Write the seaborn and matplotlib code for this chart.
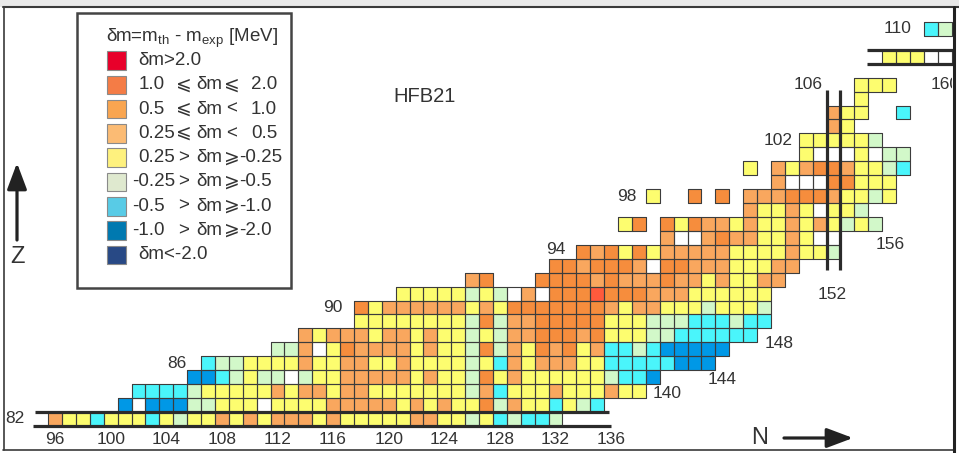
import numpy as np
import matplotlib
matplotlib.use("Agg")
import matplotlib.pyplot as plt
from matplotlib.colors import ListedColormap
from matplotlib.patches import Rectangle
from matplotlib.collections import PatchCollection
from matplotlib.lines import Line2D
import seaborn as sns

# ---------------------------------------------------------------------------
# Mass-deviation classes (delta m = m_th - m_exp, MeV)
#   R: >2.0   D: 1.0..2.0   O: 0.5..1.0   L: 0.25..0.5   Y: -0.25..0.25
#   G: -0.5..-0.25   C: -1.0..-0.5   B: -2.0..-1.0   K: <-2.0   .: no entry
# ---------------------------------------------------------------------------
class_codes = ["R", "D", "O", "L", "Y", "G", "C", "B", "K", "."]
cell_colors = ["#ff5a3c", "#f68d3d", "#f9a75e", "#fbbf7e", "#fdfd6f",
               "#d2f8c9", "#4af5fb", "#0098e6", "#253f86", "#ffffff"]
key_colors = ["#e8002a", "#f47c46", "#f9a550", "#fbbb74", "#fef17e",
              "#dfe9cf", "#58cbe6", "#0079b0", "#284985"]
key_labels = ["δm>2.0",
              "1.0|⩽|δm|⩽|2.0",
              "0.5|⩽|δm|<|1.0",
              "0.25|⩽|δm|<|0.5",
              "0.25|>|δm|⩾|-0.25",
              "-0.25|>|δm|⩾|-0.5",
              "-0.5|>|δm|⩾|-1.0",
              "-1.0|>|δm|⩾|-2.0",
              "δm<-2.0"]

# one string per proton number Z, first character at neutron number n_first
z_values = list(range(82, 111))
n_first = [96, 101, 102, 106, 107, 112, 114, 118, 118, 121,
           126, 132, 134, 140, 137, 146, 139, 148, 146, 150,
           150, 152, 152, 154, 154, 154, 156, 156, 159]
row_cells = [
    "OYYCYYYCYGYYOYOYOOOYOYYYYYOOYYGYCGCCG",     # Z=82
    "B.BBBGGYYY.YYYYOOOOOYOYOYYDGOYYCYGC",       # 83
    "CCCCGYYYYYOYOOYOOYYYYYYYGOCYYYOYYYOYY",     # 84
    "BBCGYGG.GYYOOOOOYOYYGDYOYYYYYYGCCB",        # 85
    "CGGYYYYOYYOOYYOYYYYGYCOYOOOYYCCCCCBBB",     # 86
    "GGO.YDOOOOYOYYGDGOYDODYOCCGCBBBBB",         # 87
    "OYOOOYOOYOYYGYGOODDDODYYYGGCCCCCC",         # 88
    "YYYYYYYYGDGOODDDDDYYYGGGCCCGCC",            # 89
    "DYOOOOOOYOYDDDDDDDOYOOYYYGYYYG",            # 90
    "YYYYYGYG.O.DDDRDDDOOOYYYYYY",               # 91
    "OD   DDDDODOOODOOYOYYOO",                   # 92
    "DDODDDO.DDOOOYYYOO",                        # 93
    "DODYDYOOOOOYYYYOYYG",                       # 94
    "O..ODOOYYOY..",                             # 95
    "YD DYDOOYOYYOYOYGYG",                       # 96
    "OYYOY.YYG",                                 # 97
    "Y  D D OOODDDOYYGY",                        # 98
    "O...DDYYY",                                 # 99
    "Y OYODDOYYGC",                              # 100
    "Y...Y.GG",                                  # 101
    "YYYYYG",                                    # 102
    "OY",                                        # 103
    "OYY  C",                                    # 104
    "Y",                                         # 105
    "YYY",                                       # 106
    "",                                          # 107
    "YYY..",                                     # 108
    "",                                          # 109
    "CG",                                        # 110
]

n_ticks = [96, 100, 104, 108, 112, 116, 120, 124, 128, 132, 136]
z_marks = ["82", "86", "90", "94", "98", "102", "106", "110"]
z_mark_pos = [(93.1, 82.0), (104.8, 86.0), (116.0, 90.0), (132.0, 94.2),
              (137.1, 98.0), (148.0, 102.0), (150.2, 106.0), (156.6, 110.0)]
n_marks = ["140", "144", "148", "152", "156", "160"]
n_mark_pos = [(140.0, 83.8), (144.0, 84.8), (148.1, 87.4), (151.9, 90.9),
              (156.1, 94.5), (160.0, 106.0)]

N_MIN, N_MAX, Z_MIN, Z_MAX = 96, 160, 82, 110

# ---------------------------------------------------------------------------
grid = np.full((Z_MAX - Z_MIN + 1, N_MAX - N_MIN + 1), np.nan)
for z, n0, cells in zip(z_values, n_first, row_cells):
    for k, code in enumerate(cells):
        if code == " ":
            continue
        grid[Z_MAX - z, n0 + k - N_MIN] = class_codes.index(code)

sns.set_style("white")
plt.rcParams["font.family"] = ["Liberation Sans", "DejaVu Sans"]
plt.rcParams["mathtext.fontset"] = "custom"
plt.rcParams["mathtext.rm"] = "Liberation Sans"
plt.rcParams["mathtext.it"] = "Liberation Sans:italic"

fig = plt.figure(figsize=(9.59, 4.53), dpi=100)
ax = fig.add_axes([0, 0, 1, 1])

sns.heatmap(grid, ax=ax, cmap=ListedColormap(cell_colors), vmin=-0.5,
            vmax=len(cell_colors) - 0.5, cbar=False, linewidths=0,
            square=False)

# outline only the nuclides that are present
rows, cols = np.nonzero(~np.isnan(grid))
outlines = PatchCollection([Rectangle((c, r), 1, 1) for r, c in zip(rows, cols)],
                           facecolor="none", edgecolor="#3c3c3c",
                           linewidth=0.8, zorder=3)
ax.add_collection(outlines)

# pixel <-> cell-grid mapping of the canvas
X0, Y0, PX, PY = 48.1, 21.96, 13.9, 13.93


def px(x, y):
    return ((x - X0) / PX, (y - Y0) / PY)


def cell(n, z):
    return (n - N_MIN + 0.5, Z_MAX - z + 0.5)


ax.set_xlim(px(0, 0)[0], px(959, 0)[0])
ax.set_ylim(px(0, 453)[1], px(0, 0)[1])
ax.set_axis_off()

ink = "#333333"


# closed-shell double lines: Z = 82, Z = 108, N = 152
def seg(p0, p1, lw=2.3):
    ax.add_line(Line2D([p0[0], p1[0]], [p0[1], p1[1]], color="#2b2b2b",
                       lw=lw, solid_capstyle="butt", zorder=4))


r82 = Z_MAX - 82
seg((px(35, 0)[0], r82), (px(609, 0)[0], r82))
seg((px(33, 0)[0], r82 + 1), (px(611, 0)[0], r82 + 1))
r108 = Z_MAX - 108
seg((px(867, 0)[0], r108), (px(953, 0)[0], r108))
seg((px(867, 0)[0], r108 + 1), (px(953, 0)[0], r108 + 1))
c152 = 152 - N_MIN
seg((c152, px(0, 90)[1]), (c152, px(0, 270)[1]))
seg((c152 + 1, px(0, 90)[1]), (c152 + 1, px(0, 270)[1]))

# number labels
for lab, (n, z) in zip(z_marks, z_mark_pos):
    ax.text(*cell(n, z), lab, ha="center", va="center", fontsize=12.5,
            color=ink, zorder=6)
for n in n_ticks:
    ax.text(*cell(n, 80.5), str(n), ha="center", va="center",
            fontsize=12.5, color=ink, zorder=6)
frame_clip = Rectangle(px(3, 7), px(952, 0)[0] - px(3, 0)[0],
                       px(0, 450)[1] - px(0, 7)[1], transform=ax.transData)
for lab, (n, z) in zip(n_marks, n_mark_pos):
    t = ax.text(*cell(n, z), lab, ha="center", va="center", fontsize=12.5,
                color=ink, zorder=6, clip_on=True)
    t.set_clip_path(frame_clip)

ax.text(*px(425, 97), "HFB21", ha="center", va="center", fontsize=14.5,
        color=ink, zorder=6)

# axis arrows
ax.annotate("", xy=px(17, 163), xytext=px(17, 240),
            arrowprops=dict(arrowstyle="-|>,head_length=0.8,head_width=0.3",
                            lw=2.3, color="#222222", shrinkA=0, shrinkB=0,
                            mutation_scale=20), zorder=6)
ax.text(*px(17, 257), "Z", ha="center", va="center", fontsize=17,
        color=ink, zorder=6)
ax.annotate("", xy=px(853, 438), xytext=px(784, 438),
            arrowprops=dict(arrowstyle="-|>,head_length=0.8,head_width=0.3",
                            lw=2.3, color="#222222", shrinkA=0, shrinkB=0,
                            mutation_scale=20), zorder=6)
ax.text(*px(760, 438), "N", ha="center", va="center", fontsize=17,
        color=ink, zorder=6)

# colour key
bx0, by0 = px(77, 13)
bx1, by1 = px(291, 288)
ax.add_patch(Rectangle((bx0, by0), bx1 - bx0, by1 - by0, facecolor="white",
                       edgecolor="#444444", lw=1.8, zorder=7))
ax.text(*px(106, 38), r"δm=m$_{\mathrm{th}}$ - m$_{\mathrm{exp}}$ [MeV]",
        ha="left", va="center", fontsize=13.5, color=ink, zorder=8)
sw = 18.5
for i, (col, lab) in enumerate(zip(key_colors, key_labels)):
    yc = 60.5 + 24.3 * i
    sx0, sy0 = px(107, yc - sw / 2)
    sx1, sy1 = px(107 + sw, yc + sw / 2)
    ax.add_patch(Rectangle((sx0, sy0), sx1 - sx0, sy1 - sy0, facecolor=col,
                           edgecolor="#8a8a8a", lw=0.8, zorder=8))
    parts = lab.split("|")
    if len(parts) == 1:
        ax.text(*px(138.3, yc), parts[0], ha="left", va="center",
                fontsize=13.5, color=ink, zorder=8)
        continue
    lo, op1, dm, op2, hi = parts
    ax.text(*px(131.7 if lo.startswith("-") else 138.3, yc), lo, ha="left",
            va="center", fontsize=13.5, color=ink, zorder=8)
    ax.text(*px(184, yc), op1, ha="center", va="center", fontsize=13.5,
            color=ink, zorder=8)
    ax.text(*px(196.7, yc), dm, ha="left", va="center", fontsize=13.5,
            color=ink, zorder=8)
    ax.text(*px(231.5, yc), op2, ha="center", va="center", fontsize=13.5,
            color=ink, zorder=8)
    ax.text(*px(239 if hi.startswith("-") else 251, yc), hi, ha="left",
            va="center", fontsize=13.5, color=ink, zorder=8)

# panel frame
ax.add_patch(Rectangle(px(0, 0), px(959, 0)[0] - px(0, 0)[0],
                       px(0, 7)[1] - px(0, 0)[1], facecolor="#e9e9e9",
                       edgecolor="none", zorder=9))
frame = "#3a3a3a"
ax.add_line(Line2D([px(3, 0)[0], px(959, 0)[0]], [px(0, 7.5)[1]] * 2,
                   color=frame, lw=1.5, zorder=10))
ax.add_line(Line2D([px(3.5, 0)[0]] * 2, [px(0, 7)[1], px(0, 450)[1]],
                   color=frame, lw=1.2, zorder=10))
ax.add_line(Line2D([px(3, 0)[0], px(953, 0)[0]], [px(0, 449.5)[1]] * 2,
                   color=frame, lw=1.2, zorder=10))
ax.add_line(Line2D([px(953.5, 0)[0]] * 2, [px(0, 7)[1], px(0, 453)[1]],
                   color="#222222", lw=2.2, zorder=10))

fig.savefig("out.png", dpi=100)
